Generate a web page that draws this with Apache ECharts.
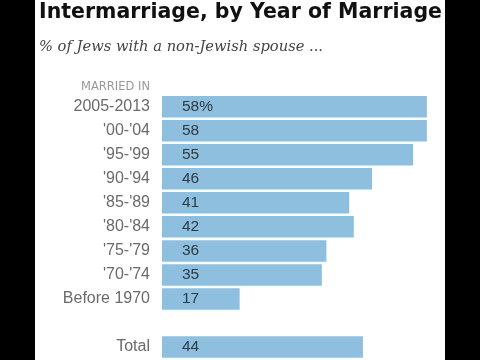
<!DOCTYPE html>
<html>
<head>
<meta charset="utf-8">
<script src="https://cdn.jsdelivr.net/npm/echarts@6/dist/echarts.min.js"></script>
<style>
html,body{margin:0;padding:0;background:#000;}
#chart{width:480px;height:360px;background:linear-gradient(to right,#000 0,#000 35px,#fff 35px,#fff 445px,#000 445px,#000 480px);}
</style>
</head>
<body>
<div id="chart"></div>
<script>
const categories = ['2005-2013', "'00-'04", "'95-'99", "'90-'94", "'85-'89", "'80-'84", "'75-'79", "'70-'74", 'Before 1970', '', 'Total'];
const values = [58, 58, 55, 46, 41, 42, 36, 35, 17, null, 44];
const titleText = 'Intermarriage, by Year of Marriage';
const subtitleText = '% of Jews with a non-Jewish spouse ...';
const axisHeader = 'MARRIED IN';

const chart = echarts.init(document.getElementById('chart'));
chart.setOption({
  animation: false,
  title: [
    {text: titleText, left: 34, top: -3,
     textStyle: {fontFamily: 'DejaVu Sans', fontWeight: 'bold', fontSize: 20.5, color: '#111'}},
    {text: subtitleText, left: 34, top: 35,
     textStyle: {fontFamily: 'DejaVu Serif', fontStyle: 'italic', fontWeight: 'normal', fontSize: 14.7, color: '#444'}}
  ],
  graphic: [
    {type: 'text', x: 150, y: 81, style: {text: axisHeader, textAlign: 'right', font: '11.5px "DejaVu Sans"', fill: '#999'}}
  ],
  grid: {left: 162, right: 44, top: 94.7, bottom: 1, containLabel: false},
  xAxis: {type: 'value', min: 0, max: 60, show: false},
  yAxis: {
    type: 'category', data: categories, inverse: true,
    axisLine: {show: false}, axisTick: {show: false}, splitLine: {show: false},
    axisLabel: {margin: 12, fontFamily: 'Liberation Sans', fontSize: 16, color: '#6a6a6a'}
  },
  series: [{
    type: 'bar', data: values, barWidth: 21.5,
    itemStyle: {color: '#8fbfdf'},
    label: {
      show: true, position: 'insideLeft', distance: 20,
      fontFamily: 'Liberation Sans', fontSize: 15.5, color: '#2d3b45',
      formatter: p => p.dataIndex === 0 ? p.value + '%' : String(p.value)
    }
  }]
});
</script>
</body>
</html>
